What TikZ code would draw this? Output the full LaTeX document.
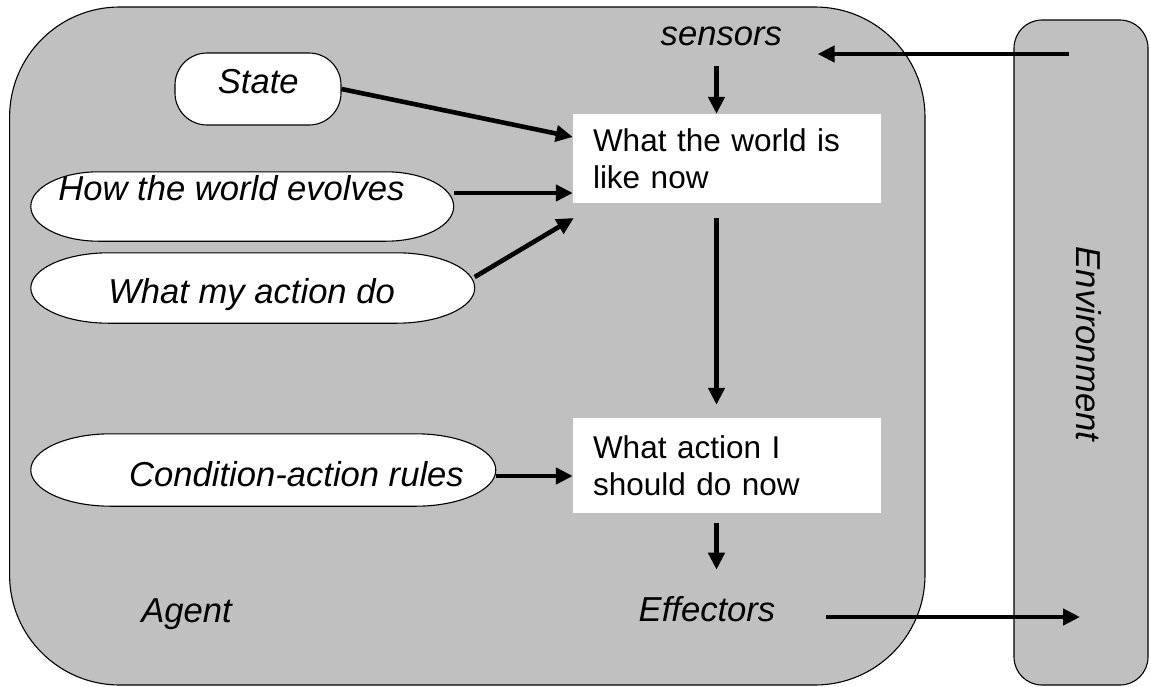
\documentclass[tikz,border=0pt]{standalone}
\usepackage{fontspec}
\setmainfont{Liberation Sans}
\usetikzlibrary{arrows.meta,calc}

\definecolor{agentgrey}{HTML}{C0C0C0}

% Outline of a pill-shaped box with elliptical ends, drawn round a named node
\newcommand\capsuleline[2]{%
  \draw[capsule] let \p1=(#1.north west), \p2=(#1.south east),
    \n1={(\y1-\y2)/2} in
    (\x1+#2,\y1) -- (\x2-#2,\y1)
    arc[start angle=90, end angle=-90, x radius=#2, y radius=\n1]
    -- (\x1+#2,\y2)
    arc[start angle=270, end angle=90, x radius=#2, y radius=\n1] -- cycle;}

\tikzset{
  panel/.style={draw=black, line width=1.1pt, fill=agentgrey},
  capsule/.style={draw=black, line width=1.1pt, fill=white},
  slot/.style={inner sep=0pt, draw=none},
  statebox/.style={draw=black, line width=1.1pt, fill=white, rounded corners=32pt,
    minimum width=166pt, minimum height=72pt, inner sep=0pt},
  whitebox/.style={fill=white, draw=none, minimum width=308pt, inner sep=0pt,
    text width=268pt, align=left, font=\fontsize{31.5}{37}\selectfont},
  label/.style={inner sep=0pt, anchor=base, font=\fontsize{34.6}{40}\selectfont\itshape},
  arr/.style={line width=4.6pt, -{Triangle[length=17pt,width=16pt]}},
}

\begin{document}
\begin{tikzpicture}[x=1pt,y=1pt]
\useasboundingbox (0,0) rectangle (1151,-686);

% agent and environment panels
\draw[panel, rounded corners=110pt] (9.6,-7) rectangle (925,-685);
\draw[panel, rounded corners=28pt] (1014,-20) rectangle (1148,-685);

% knowledge sources on the left
\node[statebox] (state) at (258,-89) {};
\node[slot, minimum width=422.5pt, minimum height=69pt] (how) at (242.25,-206.5) {};
\capsuleline{how}{68pt}
\node[slot, minimum width=443.5pt, minimum height=70pt] (mine) at (252.75,-288) {};
\capsuleline{mine}{78pt}
\node[slot, minimum width=464.6pt, minimum height=72pt] (cond) at (263.3,-470) {};
\capsuleline{cond}{80pt}

\node[label] (statetxt) at (258.3,-93.3) {State};
\node[label] (howtxt) at (231.5,-200) {How the world evolves};
\node[label] (minetxt) at (251.6,-303) {What my action do};
\node[label] (condtxt) at (296.5,-486.7) {Condition-action rules};

% internal state boxes
\node[whitebox, minimum height=89pt] (world) at (727,-158.5) {What the world is\\like now};
\node[whitebox, minimum height=95pt] (action) at (727,-465.5) {What action I\\should do now};

% captions
\node[label] (sensors) at (721.3,-45) {sensors};
\node[label] (effectors) at (707,-621) {Effectors};
\node[label] (agent) at (186.5,-622) {Agent};
\node[label, rotate=-90] (env) at (1076.5,-344) {Environment};

% connectors
\coordinate (spine) at (716.5,0);
\coordinate (envout) at (1069,-54);
\coordinate (envin) at (1080,-617);

\draw[arr, shorten >=35.5pt] (envout) -- (envout -| sensors.east);
\draw[arr, shorten <=20.5pt] (sensors.south -| spine) -- (world.north -| spine);
\draw[arr, shorten <=15pt, shorten >=13pt] (world.south -| spine) -- (action.north -| spine);
\draw[arr, shorten <=10pt, shorten >=26pt] (action.south -| spine) -- (effectors.north -| spine);
\draw[arr, shorten <=51pt] ([yshift=4pt]effectors.base east) -- (envin);

\draw[arr] (state.east) -- ([yshift=21.5pt]world.west);
\draw[arr] ([yshift=13.5pt]how.east) -- ([yshift=-34.5pt]world.west);
\draw[arr] ([yshift=11pt]mine.east) -- ([xshift=1pt,yshift=-59.5pt]world.west);
\draw[arr] ([yshift=-6pt]cond.east) -- ([yshift=-10.5pt]action.west);
\end{tikzpicture}
\end{document}
